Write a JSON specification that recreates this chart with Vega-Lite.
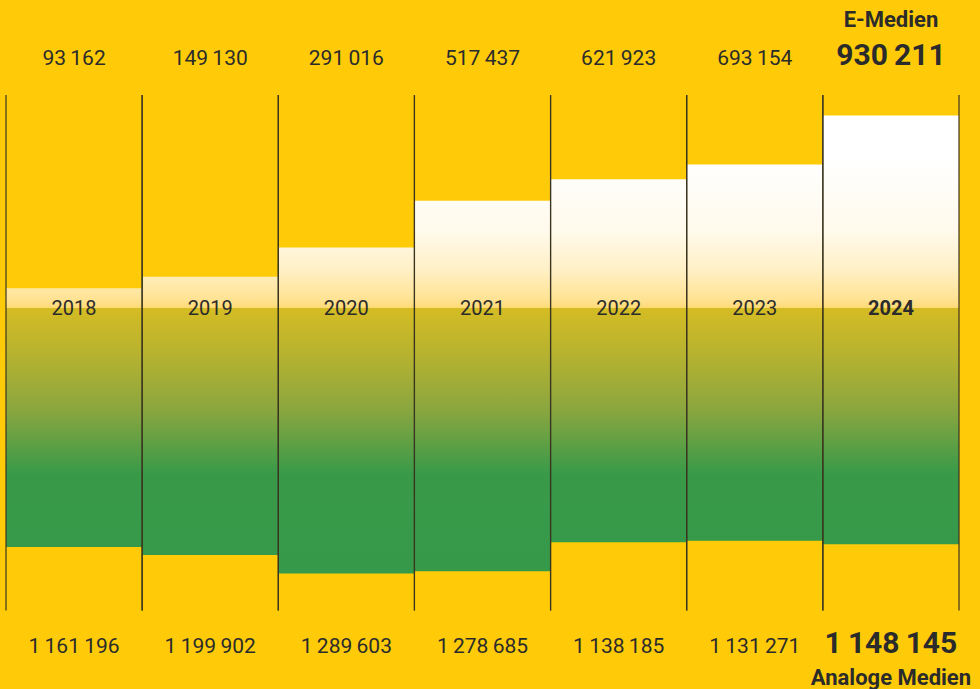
{
  "$schema": "https://vega.github.io/schema/vega-lite/v6.json",
  "width": 953,
  "height": 689,
  "autosize": {"type": "none"},
  "padding": {"left": 6, "right": 21, "top": 0, "bottom": 0},
  "background": "#FFCB08",
  "config": {"view": {"stroke": null}, "axis": {"disable": true}, "legend": {"disable": true}},
  "data": {"values": [
    {"year": "2018", "e": 93162, "a": 1161196, "eLabel": "93\u2009162", "aLabel": "1\u2009161\u2009196"},
    {"year": "2019", "e": 149130, "a": 1199902, "eLabel": "149\u2009130", "aLabel": "1\u2009199\u2009902"},
    {"year": "2020", "e": 291016, "a": 1289603, "eLabel": "291\u2009016", "aLabel": "1\u2009289\u2009603"},
    {"year": "2021", "e": 517437, "a": 1278685, "eLabel": "517\u2009437", "aLabel": "1\u2009278\u2009685"},
    {"year": "2022", "e": 621923, "a": 1138185, "eLabel": "621\u2009923", "aLabel": "1\u2009138\u2009185"},
    {"year": "2023", "e": 693154, "a": 1131271, "eLabel": "693\u2009154", "aLabel": "1\u2009131\u2009271"},
    {"year": "2024", "e": 930211, "a": 1148145, "eLabel": "930\u2009211", "aLabel": "1\u2009148\u2009145"}
  ]},
  "resolve": {"scale": {"y": "independent"}},
  "layer": [
    {
      "mark": {"type": "bar", "fill": {"gradient": "linear", "x1": 0, "y1": 0, "x2": 0, "y2": 1, "stops": [
        {"offset": 0, "color": "#FFFFFF"},
        {"offset": 0.126, "color": "#FFFFFF"},
        {"offset": 0.262, "color": "#FFFAEC"},
        {"offset": 0.339, "color": "#FFF0C6"},
        {"offset": 0.398, "color": "#FFE291"},
        {"offset": 0.4122, "color": "#FFDA76"},
        {"offset": 0.4135, "color": "#D5BC24"},
        {"offset": 0.515, "color": "#B2B131"},
        {"offset": 0.611, "color": "#8AA63F"},
        {"offset": 0.735, "color": "#389A49"},
        {"offset": 1, "color": "#35994A"}
      ]}},
      "encoding": {
        "x": {"field": "year", "type": "ordinal", "scale": {"paddingInner": 0, "paddingOuter": 0}},
        "y": {"datum": 1030200, "type": "quantitative", "scale": {"domain": [-1849512, 1490760], "nice": false, "zero": false}},
        "y2": {"datum": -1468900}
      }
    },
    {
      "mark": {"type": "bar", "fill": "#FFCB08"},
      "encoding": {
        "x": {"field": "year", "type": "ordinal"},
        "y": {"field": "e", "type": "quantitative", "scale": {"domain": [-1849512, 1490760], "nice": false, "zero": false}},
        "y2": {"datum": 1045000}
      }
    },
    {
      "mark": {"type": "bar", "fill": "#FFCB08"},
      "encoding": {
        "x": {"field": "year", "type": "ordinal"},
        "y": {"field": "a", "type": "quantitative", "scale": {"domain": [-1490760, 1849512], "nice": false, "zero": false, "reverse": true}},
        "y2": {"datum": 1485000}
      }
    },
    {
      "mark": {"type": "rule", "stroke": "#3a3520", "strokeWidth": 1.2},
      "encoding": {
        "x": {"field": "year", "type": "ordinal", "bandPosition": 0},
        "y": {"datum": 1030200, "type": "quantitative", "scale": {"domain": [-1849512, 1490760], "nice": false, "zero": false}},
        "y2": {"datum": -1468900}
      }
    },
    {
      "mark": {"type": "rule", "stroke": "#3a3520", "strokeWidth": 1.2},
      "encoding": {
        "x": {"field": "year", "type": "ordinal", "bandPosition": 1},
        "y": {"datum": 1030200, "type": "quantitative", "scale": {"domain": [-1849512, 1490760], "nice": false, "zero": false}},
        "y2": {"datum": -1468900}
      }
    },
    {
      "transform": [{"filter": "datum.year != '2024'"}],
      "mark": {"type": "text", "font": "Roboto", "fontSize": 21, "color": "#2b2b2b", "baseline": "middle"},
      "encoding": {
        "x": {"field": "year", "type": "ordinal"},
        "y": {"datum": 1204700, "type": "quantitative", "scale": {"domain": [-1849512, 1490760], "nice": false, "zero": false}},
        "text": {"field": "eLabel"}
      }
    },
    {
      "transform": [{"filter": "datum.year == '2024'"}],
      "mark": {"type": "text", "font": "Roboto", "fontSize": 30, "fontWeight": "bold", "color": "#2b2b2b", "baseline": "middle"},
      "encoding": {
        "x": {"field": "year", "type": "ordinal"},
        "y": {"datum": 1220000, "type": "quantitative", "scale": {"domain": [-1849512, 1490760], "nice": false, "zero": false}},
        "text": {"field": "eLabel"}
      }
    },
    {
      "transform": [{"filter": "datum.year == '2024'"}],
      "mark": {"type": "text", "font": "Roboto", "fontSize": 22, "fontWeight": "bold", "color": "#2b2b2b", "baseline": "middle"},
      "encoding": {
        "x": {"field": "year", "type": "ordinal"},
        "y": {"datum": 1395000, "type": "quantitative", "scale": {"domain": [-1849512, 1490760], "nice": false, "zero": false}},
        "text": {"value": "E-Medien"}
      }
    },
    {
      "transform": [{"filter": "datum.year != '2024'"}],
      "mark": {"type": "text", "font": "Roboto", "fontSize": 20, "color": "#2b2b2b", "baseline": "middle"},
      "encoding": {
        "x": {"field": "year", "type": "ordinal"},
        "y": {"datum": -6700, "type": "quantitative", "scale": {"domain": [-1849512, 1490760], "nice": false, "zero": false}},
        "text": {"field": "year"}
      }
    },
    {
      "transform": [{"filter": "datum.year == '2024'"}],
      "mark": {"type": "text", "font": "Roboto", "fontSize": 20, "fontWeight": "bold", "color": "#2b2b2b", "baseline": "middle"},
      "encoding": {
        "x": {"field": "year", "type": "ordinal"},
        "y": {"datum": -7000, "type": "quantitative", "scale": {"domain": [-1849512, 1490760], "nice": false, "zero": false}},
        "text": {"field": "year"}
      }
    },
    {
      "transform": [{"filter": "datum.year != '2024'"}],
      "mark": {"type": "text", "font": "Roboto", "fontSize": 21, "color": "#2b2b2b", "baseline": "middle"},
      "encoding": {
        "x": {"field": "year", "type": "ordinal"},
        "y": {"datum": 1648000, "type": "quantitative", "scale": {"domain": [-1490760, 1849512], "nice": false, "zero": false, "reverse": true}},
        "text": {"field": "aLabel"}
      }
    },
    {
      "transform": [{"filter": "datum.year == '2024'"}],
      "mark": {"type": "text", "font": "Roboto", "fontSize": 30, "fontWeight": "bold", "color": "#2b2b2b", "baseline": "middle"},
      "encoding": {
        "x": {"field": "year", "type": "ordinal"},
        "y": {"datum": 1632000, "type": "quantitative", "scale": {"domain": [-1490760, 1849512], "nice": false, "zero": false, "reverse": true}},
        "text": {"field": "aLabel"}
      }
    },
    {
      "transform": [{"filter": "datum.year == '2024'"}],
      "mark": {"type": "text", "font": "Roboto", "fontSize": 22, "fontWeight": "bold", "color": "#2b2b2b", "baseline": "middle"},
      "encoding": {
        "x": {"field": "year", "type": "ordinal"},
        "y": {"datum": 1796000, "type": "quantitative", "scale": {"domain": [-1490760, 1849512], "nice": false, "zero": false, "reverse": true}},
        "text": {"value": "Analoge Medien"}
      }
    }
  ]
}
